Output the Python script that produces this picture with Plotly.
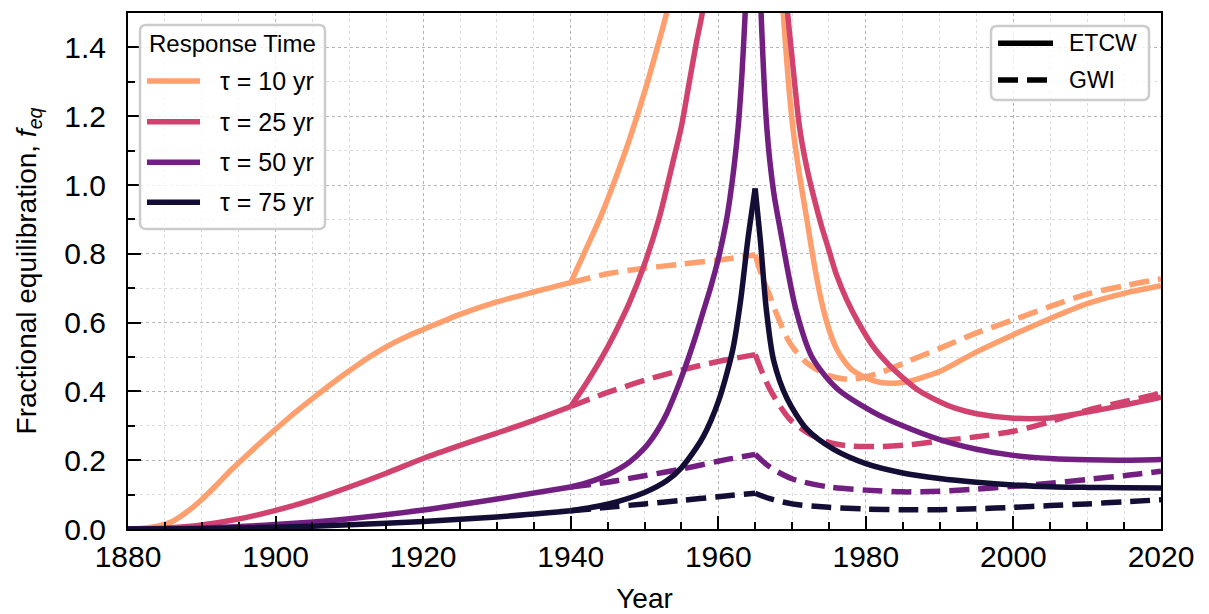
import plotly.graph_objects as go

# ---------------- data ----------------
tau_labels = ["τ = 10 yr", "τ = 25 yr", "τ = 50 yr", "τ = 75 yr"]
colors = ["#fe9f6d", "#d1436e", "#721f81", "#140e36"]

# tau = 10 yr
t10_etcw_x = [1880, 1882, 1884, 1886, 1888, 1890, 1892, 1894, 1896, 1898, 1900, 1902, 1904, 1906,
              1908, 1910, 1912, 1914, 1916, 1918, 1920, 1925, 1930, 1935, 1940, 1942, 1944, 1946,
              1948, 1950, 1952, 1953, 1954, None, 1968.3, 1968.8, 1969.5, 1970.2, 1971, 1972, 1973,
              1974, 1975, 1976, 1977, 1978, 1980, 1982, 1984, 1986, 1988, 1990, 1992, 1995, 2000,
              2005, 2010, 2015, 2020]
t10_etcw_y = [0.0, 0.002, 0.008, 0.022, 0.05, 0.086, 0.128, 0.172, 0.212, 0.252, 0.29, 0.327, 0.362, 0.396,
              0.429, 0.46, 0.49, 0.517, 0.541, 0.562, 0.58, 0.624, 0.66, 0.689, 0.716, 0.81, 0.905, 1.015,
              1.135, 1.27, 1.42, 1.5, 1.59, None, 1.62, 1.5, 1.3, 1.15, 1.03, 0.9, 0.77,
              0.66, 0.58, 0.525, 0.49, 0.465, 0.44, 0.426, 0.424, 0.43, 0.443, 0.458, 0.48, 0.515, 0.565,
              0.612, 0.655, 0.685, 0.707]
t10_gwi_x = [1940, 1945, 1950, 1955, 1960, 1965, 1966, 1967, 1968, 1969.7, 1972, 1975, 1978, 1982,
             1986, 1990, 1995, 2000, 2005, 2010, 2015, 2020]
t10_gwi_y = [0.716, 0.742, 0.758, 0.77, 0.782, 0.797, 0.73, 0.677, 0.62, 0.541, 0.483, 0.446, 0.435, 0.455,
             0.49, 0.525, 0.57, 0.608, 0.647, 0.683, 0.707, 0.727]

# tau = 25 yr
t25_etcw_x = [1880, 1885, 1890, 1895, 1900, 1905, 1910, 1915, 1920, 1925, 1930, 1935, 1940, 1942, 1944,
              1946, 1948, 1950, 1952, 1954, 1955, 1956, 1957, 1958, 1958.5, None, 1969.1, 1969.4, 1970,
              1971, 1972, 1973, 1974, 1975, 1976, 1977.4, 1979, 1981, 1983, 1985, 1987, 1990, 1992, 1995,
              2000, 2005, 2010, 2015, 2020]
t25_etcw_y = [0.0, 0.003, 0.012, 0.029, 0.054, 0.085, 0.122, 0.162, 0.205, 0.243, 0.279, 0.316, 0.356, 0.42, 0.49,
              0.57, 0.66, 0.77, 0.905, 1.08, 1.17, 1.29, 1.41, 1.52, 1.62, None, 1.6, 1.5, 1.37,
              1.17, 1.05, 0.96, 0.88, 0.81, 0.74, 0.667, 0.6, 0.53, 0.48, 0.44, 0.405, 0.37, 0.352, 0.335,
              0.322, 0.323, 0.34, 0.36, 0.383]
t25_gwi_x = [1940, 1945, 1950, 1955, 1960, 1965, 1967, 1969.7, 1972.4, 1975, 1978, 1982, 1986, 1990,
             1995, 2000, 2005, 2010, 2015, 2020]
t25_gwi_y = [0.356, 0.397, 0.432, 0.462, 0.487, 0.507, 0.406, 0.319, 0.276, 0.252, 0.241, 0.24, 0.245, 0.256,
             0.268, 0.284, 0.312, 0.345, 0.37, 0.395]

# tau = 50 yr
t50_etcw_x = [1880, 1890, 1900, 1910, 1920, 1930, 1940, 1942, 1944, 1946, 1948, 1950, 1951, 1952, 1953,
              1954, 1955, 1956, 1957, 1958, 1959, 1960, 1961, 1961.6, 1962.2, 1962.7, 1963.2, 1963.6, 1963.9,
              None, 1965.6, 1965.8, 1966.6, 1967.5, 1968.4, 1970.5, 1972.7, 1976, 1981, 1985, 1990, 1995,
              2000, 2005, 2010, 2015, 2020]
t50_etcw_y = [0.0, 0.003, 0.013, 0.03, 0.055, 0.087, 0.122, 0.133, 0.148, 0.168, 0.195, 0.235, 0.262, 0.295, 0.335,
              0.385, 0.44, 0.5, 0.565, 0.635, 0.705, 0.785, 0.885, 0.965, 1.065, 1.17, 1.32, 1.48, 1.62,
              None, 1.65, 1.5, 1.16, 0.98, 0.87, 0.64, 0.5, 0.41, 0.34, 0.3, 0.26, 0.232,
              0.214, 0.205, 0.201, 0.2, 0.202]
t50_gwi_x = [1940, 1945, 1950, 1955, 1960, 1965, 1967, 1970, 1975, 1980, 1985, 1990, 1995, 2000, 2005,
             2010, 2015, 2020]
t50_gwi_y = [0.122, 0.136, 0.155, 0.174, 0.197, 0.217, 0.18, 0.146, 0.122, 0.113, 0.108, 0.11, 0.116, 0.124, 0.133,
             0.144, 0.155, 0.168]

# tau = 75 yr
t75_etcw_x = [1880, 1890, 1900, 1910, 1920, 1930, 1940, 1945, 1950, 1953, 1955, 1957, 1958, 1959, 1960,
              1961, 1962, 1963, 1964, 1965, 1965.7, 1966.5, 1967.5, 1969.3, 1972, 1975.6, 1980, 1985, 1990,
              1995, 2000, 2005, 2010, 2015, 2020]
t75_etcw_y = [0.0, 0.001, 0.005, 0.012, 0.022, 0.035, 0.053, 0.072, 0.106, 0.14, 0.178, 0.235, 0.27, 0.315, 0.37,
              0.44, 0.525, 0.66, 0.84, 0.99, 0.84, 0.64, 0.49, 0.38, 0.29, 0.232, 0.19, 0.163, 0.147,
              0.136, 0.128, 0.123, 0.121, 0.12, 0.119]
t75_gwi_x = [1940, 1945, 1950, 1955, 1960, 1965, 1967, 1970, 1975, 1980, 1985, 1990, 1995, 2000, 2005,
             2010, 2015, 2020]
t75_gwi_y = [0.053, 0.063, 0.073, 0.083, 0.094, 0.104, 0.088, 0.073, 0.063, 0.058, 0.056, 0.056, 0.059, 0.063, 0.068,
             0.073, 0.079, 0.085]

etcw_x = [t10_etcw_x, t25_etcw_x, t50_etcw_x, t75_etcw_x]
etcw_y = [t10_etcw_y, t25_etcw_y, t50_etcw_y, t75_etcw_y]
gwi_x = [t10_gwi_x, t25_gwi_x, t50_gwi_x, t75_gwi_x]
gwi_y = [t10_gwi_y, t25_gwi_y, t50_gwi_y, t75_gwi_y]

kink_years = [1940, 1965]   # forcing-period boundaries where the curves have corners
x_range = [1880, 2020]
y_range = [0, 1.5]
style_labels = ["ETCW", "GWI"]

# ---------------- figure ----------------
FONT = "Liberation Sans, Arial, Helvetica, sans-serif"
LW = 5.5
DASH = "20px,9px"


def segments(xs, ys, breaks):
    """Split a series at gaps (None) and at corner years, so smoothing keeps the corners."""
    segs, cx, cy = [], [], []
    for x, y in zip(xs, ys):
        if x is None:
            if len(cx) > 1:
                segs.append((cx, cy))
            cx, cy = [], []
            continue
        cx.append(x)
        cy.append(y)
        if x in breaks and len(cx) > 1:
            segs.append((cx, cy))
            cx, cy = [x], [y]
    if len(cx) > 1:
        segs.append((cx, cy))
    return segs


fig = go.Figure()
for i in range(4):
    for sx, sy in segments(etcw_x[i], etcw_y[i], kink_years):
        fig.add_trace(go.Scatter(x=sx, y=sy, mode="lines", name=tau_labels[i] + " ETCW",
                                 line=dict(color=colors[i], width=LW, shape="spline", smoothing=0.8),
                                 showlegend=False))
    for sx, sy in segments(gwi_x[i], gwi_y[i], kink_years):
        fig.add_trace(go.Scatter(x=sx, y=sy, mode="lines", name=tau_labels[i] + " GWI",
                                 line=dict(color=colors[i], width=LW, dash=DASH, shape="spline", smoothing=0.8),
                                 showlegend=False))

W, H = 1209, 614
ML, MR, MT, MB = 128, 48, 13, 85
PW, PH = W - ML - MR, H - MT - MB


def px(xp):
    return (xp - ML) / PW


def py(yp):
    return (H - MB - yp) / PH


def rounded_box(x0, y0, x1, y1, r=6):
    rx, ry = r / PW, r / PH
    X0, X1, Y0, Y1 = px(x0), px(x1), py(y0), py(y1)  # Y0 top, Y1 bottom
    return (f"M{X0+rx},{Y0} L{X1-rx},{Y0} Q{X1},{Y0} {X1},{Y0-ry} "
            f"L{X1},{Y1+ry} Q{X1},{Y1} {X1-rx},{Y1} L{X0+rx},{Y1} "
            f"Q{X0},{Y1} {X0},{Y1+ry} L{X0},{Y0-ry} Q{X0},{Y0} {X0+rx},{Y0} Z")


shapes = []
annotations = []

# legend 1 : response time
shapes.append(dict(type="path", xref="paper", yref="paper", path=rounded_box(140, 25, 325, 229),
                   fillcolor="rgba(255,255,255,0.8)", line=dict(color="#cccccc", width=2.5), layer="above"))
annotations.append(dict(xref="paper", yref="paper", x=px(232), y=py(43.5), text="Response Time",
                        showarrow=False, xanchor="center", yanchor="middle",
                        font=dict(family=FONT, size=24, color="black")))
rows = [81, 121.7, 162.3, 202.3]
for i in range(4):
    shapes.append(dict(type="line", xref="paper", yref="paper", x0=px(147), x1=px(200), y0=py(rows[i]),
                       y1=py(rows[i]), line=dict(color=colors[i], width=LW), layer="above"))
    annotations.append(dict(xref="paper", yref="paper", x=px(218), y=py(rows[i]), text=tau_labels[i],
                            showarrow=False, xanchor="left", yanchor="middle",
                            font=dict(family=FONT, size=25, color="black")))

# legend 2 : line style
shapes.append(dict(type="path", xref="paper", yref="paper", path=rounded_box(991, 26, 1149, 100),
                   fillcolor="rgba(255,255,255,0.8)", line=dict(color="#cccccc", width=2.5), layer="above"))
rows2 = [43.3, 80]
dashes2 = ["solid", DASH]
for j in range(2):
    shapes.append(dict(type="line", xref="paper", yref="paper", x0=px(998), x1=px(1053), y0=py(rows2[j]),
                       y1=py(rows2[j]), line=dict(color="black", width=LW, dash=dashes2[j]), layer="above"))
    annotations.append(dict(xref="paper", yref="paper", x=px(1067), y=py(rows2[j]), text=style_labels[j],
                            showarrow=False, xanchor="left", yanchor="middle",
                            font=dict(family=FONT, size=23, color="black")))

axis_common = dict(
    showline=True, linewidth=2, linecolor="black", mirror=True,
    ticks="inside", ticklen=13, tickwidth=2, tickcolor="black",
    showgrid=True, gridcolor="#b5b5b5", gridwidth=1, griddash="dot",
    zeroline=False, automargin=False,
    tickfont=dict(family=FONT, size=30, color="black"),
)

fig.update_layout(
    width=W, height=H,
    margin=dict(l=ML, r=MR, t=MT, b=MB),
    paper_bgcolor="white", plot_bgcolor="white",
    font=dict(family=FONT, color="black"),
    shapes=shapes, annotations=annotations,
    xaxis=dict(range=x_range, tick0=1880, dtick=20, ticklabelstandoff=0,
               title=dict(text="Year", font=dict(family=FONT, size=28, color="black"), standoff=24),
               minor=dict(dtick=5, ticks="inside", ticklen=7, tickwidth=1.5, tickcolor="black",
                          showgrid=True, gridcolor="#dcdcdc", griddash="dot", gridwidth=1),
               **axis_common),
    yaxis=dict(range=y_range, tick0=0, dtick=0.2, tickformat=".1f", ticklabelstandoff=14,
               title=dict(text="Fractional equilibration, <i>f</i><sub><i>eq</i></sub>",
                          font=dict(family=FONT, size=28, color="black"), standoff=19),
               minor=dict(dtick=0.1, ticks="inside", ticklen=7, tickwidth=1.5, tickcolor="black",
                          showgrid=True, gridcolor="#dcdcdc", griddash="dot", gridwidth=1),
               **axis_common),
)

fig.write_html("out.html", config={"displayModeBar": False},
               post_script="document.body.style.margin='0';")
